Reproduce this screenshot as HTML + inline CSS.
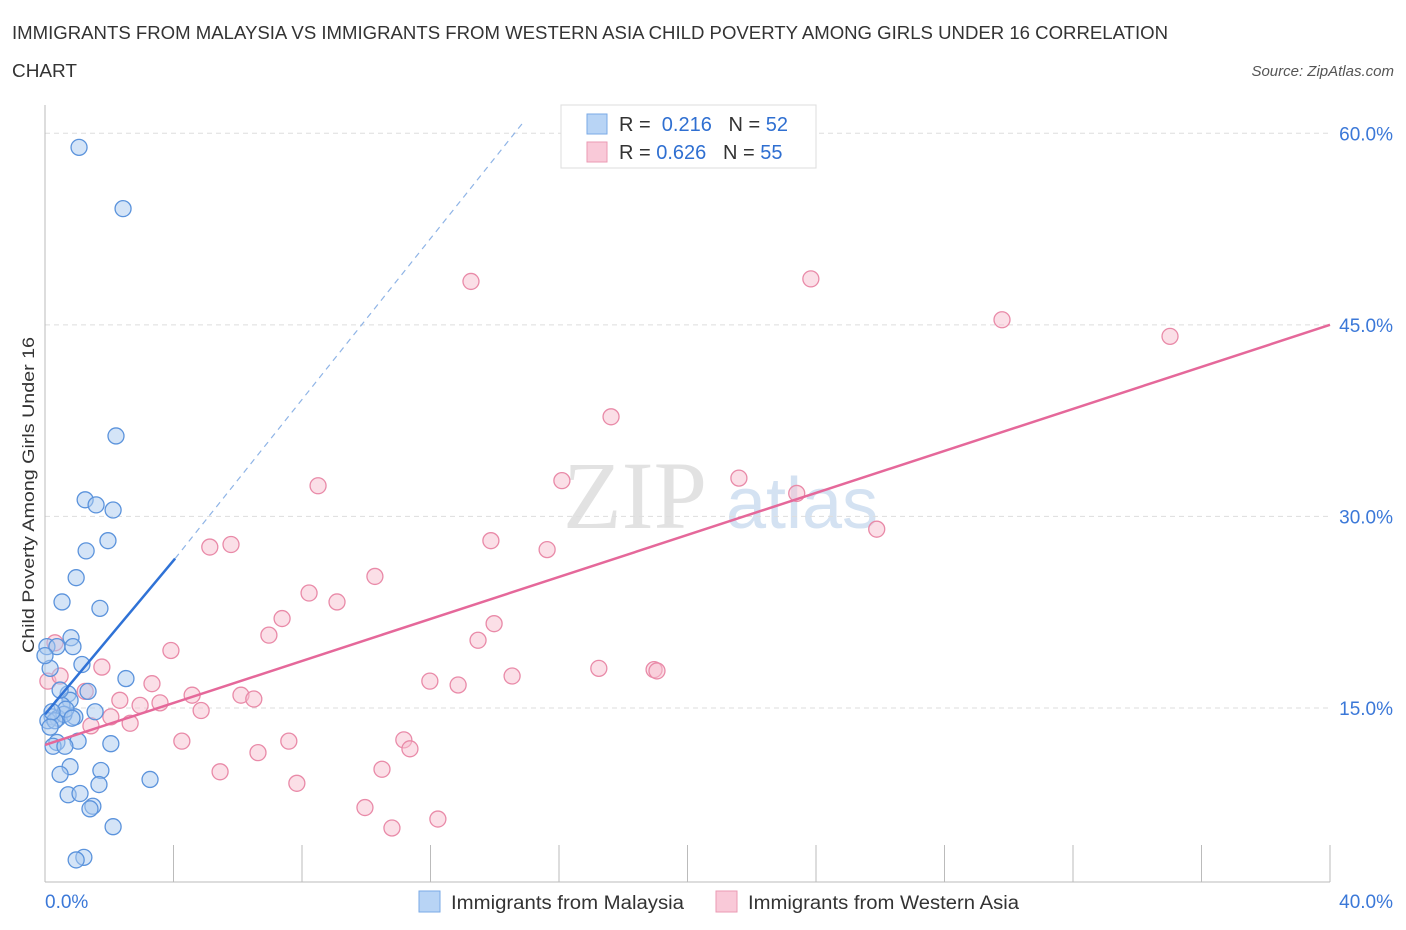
<!DOCTYPE html>
<html><head><meta charset="utf-8"><style>
body{margin:0;background:#fff;font-family:"Liberation Sans",sans-serif;}
</style></head><body>
<svg id="chart" width="1406" height="930" xmlns="http://www.w3.org/2000/svg" style="display:block">
<text x="12" y="39" font-size="18" fill="#333" textLength="1156" lengthAdjust="spacingAndGlyphs">IMMIGRANTS FROM MALAYSIA VS IMMIGRANTS FROM WESTERN ASIA CHILD POVERTY AMONG GIRLS UNDER 16 CORRELATION</text>
<text x="12" y="77" font-size="18" fill="#333" textLength="65" lengthAdjust="spacingAndGlyphs">CHART</text>
<text x="1394" y="76" font-size="15" fill="#555" text-anchor="end" font-style="italic">Source: ZipAtlas.com</text>
<text transform="translate(34,495) rotate(-90)" font-size="17" fill="#333" text-anchor="middle" textLength="316" lengthAdjust="spacingAndGlyphs">Child Poverty Among Girls Under 16</text>
<g>
<text x="635" y="528" font-size="96" font-family="Liberation Serif" fill="#e2e2e2" text-anchor="middle">ZIP</text>
<text x="802" y="528" font-size="72" fill="#d4e2f2" text-anchor="middle">atlas</text>
</g>
<g id="grid"></g><g id="axes"></g><g id="lines"></g><g id="pts"></g>
<g>
<rect x="561" y="105" width="255" height="63" fill="#fff" stroke="#ddd"/>
<rect x="587" y="114" width="20" height="20" fill="#b8d4f5" stroke="#7aaae6"/>
<text x="619" y="131" font-size="20" fill="#333">R = <tspan fill="#2f6fd1">&#160;0.216</tspan>&#160;&#160;&#160;N = <tspan fill="#2f6fd1">52</tspan></text>
<rect x="587" y="142" width="20" height="20" fill="#f9c9d8" stroke="#eb9ab3"/>
<text x="619" y="159" font-size="20" fill="#333">R = <tspan fill="#2f6fd1">0.626</tspan>&#160;&#160;&#160;N = <tspan fill="#2f6fd1">55</tspan></text>
</g>
<g>
<rect x="419" y="891" width="21" height="21" fill="#b8d4f5" stroke="#7aaae6"/>
<text x="451" y="909" font-size="19" fill="#333" textLength="233" lengthAdjust="spacingAndGlyphs">Immigrants from Malaysia</text>
<rect x="716" y="891" width="21" height="21" fill="#f9c9d8" stroke="#eb9ab3"/>
<text x="748" y="909" font-size="19" fill="#333" textLength="271" lengthAdjust="spacingAndGlyphs">Immigrants from Western Asia</text>
</g>
</svg>
<script>
const xTicks=[0,40];
const yTicks=[15,30,45,60];
const blueX=[1.06,2.43,2.21,1.25,1.59,2.12,1.96,1.28,0.97,0.53,1.71,0.81,0.87,0.06,0.37,1.15,0.16,2.52,1.34,0.72,0.78,0.53,1.56,0.22,0.40,0.93,0.59,0.09,0.65,1.03,0.37,0.25,2.05,0.78,1.74,0.47,3.27,1.68,0.72,1.09,1.49,1.40,2.12,1.21,0.97,0.0,0.31,0.47,0.22,0.62,0.84,0.16];
const blueY=[58.9,54.1,36.3,31.3,30.9,30.5,28.1,27.3,25.2,23.3,22.8,20.5,19.8,19.8,19.8,18.4,18.1,17.3,16.3,16.1,15.6,15.2,14.7,14.3,14.2,14.3,14.5,14.0,14.9,12.4,12.3,12.0,12.2,10.4,10.1,9.8,9.4,9.0,8.2,8.3,7.3,7.1,5.7,3.3,3.1,19.1,14.0,16.4,14.7,12.0,14.2,13.5];
const pinkX=[13.26,23.84,29.79,35.02,17.62,8.50,16.09,21.60,23.40,25.89,13.88,15.63,5.13,5.79,10.27,8.22,9.09,7.38,6.97,13.98,13.48,3.92,17.24,18.96,19.05,14.54,11.98,12.86,1.77,3.33,4.58,6.10,6.50,2.33,3.58,2.96,4.86,2.05,2.65,1.43,4.26,7.59,11.17,11.36,6.63,5.45,10.49,7.84,9.96,12.23,10.80,0.09,0.47,1.25,0.31];
const pinkY=[48.4,48.6,45.4,44.1,37.8,32.4,32.8,33.0,31.8,29.0,28.1,27.4,27.6,27.8,25.3,24.0,23.3,22.0,20.7,21.6,20.3,19.5,18.1,18.0,17.9,17.5,17.1,16.8,18.2,16.9,16.0,16.0,15.7,15.6,15.4,15.2,14.8,14.3,13.8,13.6,12.4,12.4,12.5,11.8,11.5,10.0,10.2,9.1,7.2,6.3,5.6,17.1,17.5,16.3,20.1];
const blueLine=[[0,14.5],[4.05,26.7]];
const blueDash=[[4.05,26.7],[14.9,60.9]];
const pinkLine=[[0,12.1],[40,45.0]];
const X=v=>45+v/40*1285, Y=v=>899.5-v*12.77;
const NS="http://www.w3.org/2000/svg";
function mk(p,t,a){const e=document.createElementNS(NS,t);for(const k in a)e.setAttribute(k,a[k]);p.appendChild(e);return e;}
const grid=document.getElementById('grid'),axes=document.getElementById('axes'),lines=document.getElementById('lines'),pts=document.getElementById('pts');
yTicks.forEach(t=>{
 const l=mk(grid,'line',{x1:45,x2:1330,y1:Y(t),y2:Y(t),stroke:'#ddd','stroke-dasharray':'5,4'});
 
 
 const tx=mk(axes,'text',{x:1393,y:Y(t)+7,'font-size':19,fill:'#3b78d8','text-anchor':'end'});tx.textContent=t.toFixed(1)+'%';
 
 
});
const ax=mk(axes,'line',{x1:45,x2:45,y1:105,y2:882,stroke:'#bbb'});


const bx=mk(axes,'line',{x1:45,x2:1330,y1:882,y2:882,stroke:'#bbb'});


for(let i=0;i<=10;i++){const t=mk(axes,'line',{x1:X(i*4),x2:X(i*4),y1:845,y2:882,stroke:'#bbb'});
 
 }
xTicks.forEach((t,i)=>{const tx=mk(axes,'text',{x:i==0?45:1393,y:908,'font-size':19,fill:'#3b78d8','text-anchor':i==0?'start':'end'});tx.textContent=t.toFixed(1)+'%';
 
 });
function pt(x,y,f,s,n){const c=mk(pts,'circle',{cx:X(x),cy:Y(y),r:8,fill:f,'fill-opacity':0.5,stroke:s,'stroke-width':1.3});
 
 }
pinkX.forEach((x,i)=>pt(x,pinkY[i],'#f8bfd0','#e98aa8','western-asia-point'));
blueX.forEach((x,i)=>pt(x,blueY[i],'#a9c9f0','#5b93dc','malaysia-point'));
function ln(d,c,w,dash,n){const l=mk(lines,'line',{x1:X(d[0][0]),y1:Y(d[0][1]),x2:X(d[1][0]),y2:Y(d[1][1]),stroke:c,'stroke-width':w});if(dash)l.setAttribute('stroke-dasharray',dash);
 
 }
ln(pinkLine,'#e5689a',2.5,null,'western-asia-trendline');
ln(blueLine,'#2f72d6',2.5,null,'malaysia-trendline');
ln(blueDash,'#8fb4e6',1.2,'6,5','malaysia-trendline-extension');
lines.parentNode.appendChild(lines);
</script>
</body></html>
